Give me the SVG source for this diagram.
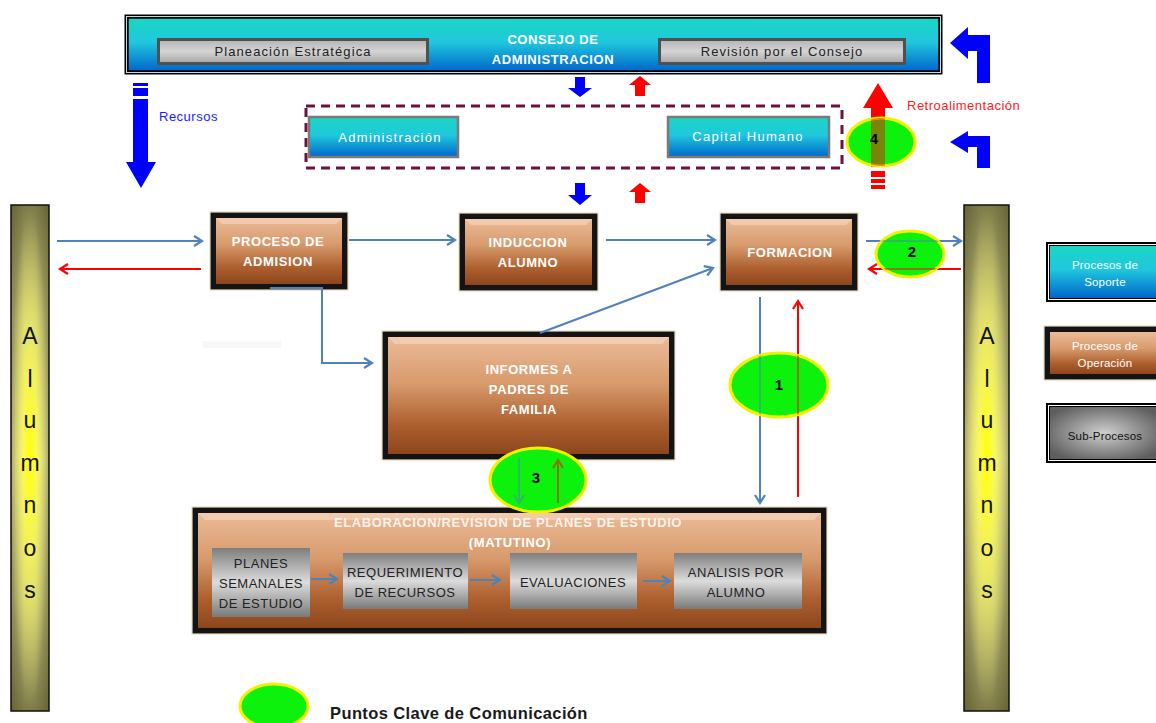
<svg xmlns="http://www.w3.org/2000/svg" width="1156" height="723" viewBox="0 0 1156 723">
  <style>
    .bold { font-family: "Liberation Sans", Arial, sans-serif; font-weight: bold; fill: #ffffff; font-size: 13px; text-anchor: middle; letter-spacing: 0.6px; }
    .soft { font-family: "Liberation Sans", Arial, sans-serif; fill: #ffffff; font-size: 13px; text-anchor: middle; letter-spacing: 1.3px; }
    .dark { font-family: "Liberation Sans", Arial, sans-serif; fill: #222222; font-size: 13px; text-anchor: middle; letter-spacing: 0.5px; }
    .btn { letter-spacing: 1.1px; }
    .legend { font-family: "Liberation Sans", Arial, sans-serif; fill: #ffffff; font-size: 11.5px; text-anchor: middle; letter-spacing: 0.2px; }
    .legend-dark { fill: #111111; }
    .bar { font-family: "Liberation Sans", Arial, sans-serif; fill: #111111; font-size: 23px; text-anchor: middle; }
    .num { font-family: "Liberation Sans", Arial, sans-serif; font-weight: bold; fill: #000000; font-size: 15px; text-anchor: middle; }
    .frame { fill: #141414; stroke: #e8dcc0; stroke-width: 1.2; }
    .brown { fill: url(#gBrown); }
    .cyanbtn { fill: url(#gCyan); stroke: #7a7a7a; stroke-width: 2.5; }
    .graybtn { fill: url(#gGrayBtn); stroke: #505050; stroke-width: 3; }
    .sub { fill: url(#gSub); }
    .key { fill: #0df20d; stroke: #f2f200; stroke-width: 3; }
    .blue { fill: none; stroke: #4f81bd; stroke-width: 2; }
    .red { fill: none; stroke: #ff0000; stroke-width: 2; }
    .fatblue { fill: #0000ff; }
    .fatred { fill: #ff0000; }
    .note { font-family: "Liberation Sans", Arial, sans-serif; font-size: 13px; letter-spacing: 0.5px; }
  </style>
  <defs>
    <linearGradient id="gCyan" x1="0" y1="0" x2="0" y2="1">
      <stop offset="0" stop-color="#1ad6c4"/>
      <stop offset="0.45" stop-color="#20c8dc"/>
      <stop offset="1" stop-color="#0066cc"/>
    </linearGradient>
    <linearGradient id="gBrown" x1="0" y1="0" x2="0" y2="1">
      <stop offset="0" stop-color="#ecbb98"/>
      <stop offset="0.4" stop-color="#d79a6c"/>
      <stop offset="0.75" stop-color="#ad5f2e"/>
      <stop offset="1" stop-color="#8c461c"/>
    </linearGradient>
    <linearGradient id="gGrayBtn" x1="0" y1="0" x2="0" y2="1">
      <stop offset="0" stop-color="#b4b4b4"/>
      <stop offset="0.5" stop-color="#d4d4d4"/>
      <stop offset="1" stop-color="#a4a4a4"/>
    </linearGradient>
    <linearGradient id="gSub" x1="0" y1="0" x2="0" y2="1">
      <stop offset="0" stop-color="#7e7e7e"/>
      <stop offset="0.5" stop-color="#dcdcdc"/>
      <stop offset="1" stop-color="#7a7a7a"/>
    </linearGradient>
    <radialGradient id="gSubLegend" cx="0.5" cy="0.5" r="0.6">
      <stop offset="0" stop-color="#cfcfcf"/>
      <stop offset="1" stop-color="#5e5e5e"/>
    </radialGradient>
    <linearGradient id="gBarV" x1="0" y1="0" x2="0" y2="1">
      <stop offset="0" stop-color="#7c7a48"/>
      <stop offset="0.22" stop-color="#c6c27c"/>
      <stop offset="0.5" stop-color="#f4f0a0"/>
      <stop offset="0.78" stop-color="#c6c27c"/>
      <stop offset="1" stop-color="#7c7a48"/>
    </linearGradient>
    <linearGradient id="gBarH" x1="0" y1="0" x2="1" y2="0">
      <stop offset="0" stop-color="#4a4820" stop-opacity="0.45"/>
      <stop offset="0.35" stop-color="#4a4820" stop-opacity="0"/>
      <stop offset="0.65" stop-color="#4a4820" stop-opacity="0"/>
      <stop offset="1" stop-color="#4a4820" stop-opacity="0.45"/>
    </linearGradient>
    <radialGradient id="gBarGlow" cx="0.5" cy="0.5" r="0.5">
      <stop offset="0" stop-color="#ffff00" stop-opacity="1"/>
      <stop offset="0.35" stop-color="#ffff40" stop-opacity="0.7"/>
      <stop offset="1" stop-color="#ffff80" stop-opacity="0"/>
    </radialGradient>
    <marker id="aBlue" markerUnits="userSpaceOnUse" markerWidth="14" markerHeight="14" refX="10" refY="6" orient="auto">
      <path d="M2,1 L10,6 L2,11" fill="none" stroke="#4f81bd" stroke-width="2.2"/>
    </marker>
    <marker id="aRed" markerUnits="userSpaceOnUse" markerWidth="14" markerHeight="14" refX="10" refY="6" orient="auto">
      <path d="M2,1 L10,6 L2,11" fill="none" stroke="#ff0000" stroke-width="2.2"/>
    </marker>
    <clipPath id="cK1"><ellipse cx="779" cy="385" rx="49" ry="32"/></clipPath>
    <clipPath id="cK2"><ellipse cx="910" cy="254" rx="34" ry="23"/></clipPath>
    <clipPath id="cK4"><ellipse cx="881" cy="142" rx="34" ry="24"/></clipPath>
  </defs>

  <rect width="1156" height="723" fill="#ffffff"/>

  <!-- Board of directors banner -->
  <g id="consejo">
    <rect x="124.5" y="14.5" width="818" height="60" fill="#000000"/>
    <rect x="126.5" y="16.5" width="814" height="56" fill="none" stroke="#c8d8e0" stroke-width="1"/>
    <rect x="128" y="18" width="811" height="53" fill="url(#gCyan)" stroke="#000" stroke-width="1.5"/>
    <text class="bold" x="553" y="44">CONSEJO DE</text>
    <text class="bold" x="553" y="64">ADMINISTRACION</text>
  </g>
  <g id="planeacion">
    <rect class="graybtn" x="158.5" y="39.5" width="269" height="24"/>
    <text class="dark btn" x="293" y="56">Planeación Estratégica</text>
  </g>
  <g id="revision">
    <rect class="graybtn" x="659.5" y="39.5" width="245" height="24"/>
    <text class="dark btn" x="782" y="56">Revisión por el Consejo</text>
  </g>

  <!-- Support processes -->
  <g id="soporte-grupo">
    <rect x="306" y="106" width="536" height="62" fill="none" stroke="#6e1040" stroke-width="3" stroke-dasharray="9 6"/>
  </g>
  <g id="administracion">
    <rect class="cyanbtn" x="309" y="117" width="149" height="40"/>
    <text class="soft" x="390" y="142">Administración</text>
  </g>
  <g id="capital-humano">
    <rect class="cyanbtn" x="668" y="117" width="161" height="40"/>
    <text class="soft" x="748" y="141">Capital Humano</text>
  </g>

  <!-- Student bars -->
  <g id="alumnos-izq">
    <rect x="11" y="205" width="38" height="506" fill="url(#gBarV)"/>
    <rect x="11" y="205" width="38" height="506" fill="url(#gBarH)"/>
    <rect x="11" y="205" width="38" height="506" fill="url(#gBarGlow)"/>
    <rect x="11" y="205" width="38" height="506" fill="none" stroke="#111" stroke-width="1.5"/>
    <text class="bar" x="30" y="344">A</text>
    <text class="bar" x="30" y="387">l</text>
    <text class="bar" x="30" y="428">u</text>
    <text class="bar" x="30" y="471">m</text>
    <text class="bar" x="30" y="513">n</text>
    <text class="bar" x="30" y="556">o</text>
    <text class="bar" x="30" y="598">s</text>
  </g>
  <g id="alumnos-der">
    <rect x="964" y="205" width="45" height="506" fill="url(#gBarV)"/>
    <rect x="964" y="205" width="45" height="506" fill="url(#gBarH)"/>
    <rect x="964" y="205" width="45" height="506" fill="url(#gBarGlow)"/>
    <rect x="964" y="205" width="45" height="506" fill="none" stroke="#111" stroke-width="1.5"/>
    <text class="bar" x="987" y="344">A</text>
    <text class="bar" x="987" y="387">l</text>
    <text class="bar" x="987" y="428">u</text>
    <text class="bar" x="987" y="471">m</text>
    <text class="bar" x="987" y="513">n</text>
    <text class="bar" x="987" y="556">o</text>
    <text class="bar" x="987" y="598">s</text>
  </g>

  <!-- Operation processes -->
  <g id="admision">
    <rect class="frame" x="210" y="212" width="138" height="78"/>
    <rect class="brown" x="216" y="218" width="126" height="66"/>
    <path d="M216,218 H342 L336,224 H222 Z" fill="#f6d2b6" opacity="0.7"/>
    <text class="bold" x="278" y="246">PROCESO DE</text>
    <text class="bold" x="278" y="266">ADMISION</text>
  </g>
  <g id="induccion">
    <rect class="frame" x="459" y="213" width="139" height="78"/>
    <rect class="brown" x="465" y="219" width="127" height="66"/>
    <path d="M465,219 H592 L586,225 H471 Z" fill="#f6d2b6" opacity="0.7"/>
    <text class="bold" x="528" y="247">INDUCCION</text>
    <text class="bold" x="528" y="267">ALUMNO</text>
  </g>
  <g id="formacion">
    <rect class="frame" x="720" y="213" width="138" height="78"/>
    <rect class="brown" x="726" y="219" width="126" height="66"/>
    <path d="M726,219 H852 L846,225 H732 Z" fill="#f6d2b6" opacity="0.7"/>
    <text class="bold" x="790" y="257">FORMACION</text>
  </g>
  <g id="informes">
    <rect class="frame" x="382" y="331" width="293" height="129"/>
    <rect class="brown" x="388" y="337" width="281" height="117"/>
    <path d="M388,337 H669 L662,344 H395 Z" fill="#f6d2b6" opacity="0.7"/>
    <text class="bold" x="529" y="374">INFORMES A</text>
    <text class="bold" x="529" y="394">PADRES DE</text>
    <text class="bold" x="529" y="414">FAMILIA</text>
  </g>
  <rect x="203" y="341" width="78" height="7" fill="#f7f7f7"/>

  <g id="elaboracion">
    <rect class="frame" x="192" y="507" width="635" height="127"/>
    <rect class="brown" x="198" y="513" width="623" height="115"/>
    <path d="M198,513 H821 L814,520 H205 Z" fill="#f6d2b6" opacity="0.7"/>
    <text class="bold" x="508" y="527" fill-opacity="0.85">ELABORACION/REVISION DE PLANES DE ESTUDIO</text>
    <text class="bold" x="510" y="547">(MATUTINO)</text>
  </g>
  <g id="planes">
    <rect class="sub" x="212" y="548" width="98" height="69"/>
    <text class="dark" x="261" y="568">PLANES</text>
    <text class="dark" x="261" y="588">SEMANALES</text>
    <text class="dark" x="261" y="608">DE ESTUDIO</text>
  </g>
  <g id="requerimiento">
    <rect class="sub" x="343" y="553" width="125" height="56"/>
    <text class="dark" x="405" y="577">REQUERIMIENTO</text>
    <text class="dark" x="405" y="597">DE RECURSOS</text>
  </g>
  <g id="evaluaciones">
    <rect class="sub" x="510" y="553" width="127" height="56"/>
    <text class="dark" x="573" y="587">EVALUACIONES</text>
  </g>
  <g id="analisis">
    <rect class="sub" x="674" y="553" width="128" height="56"/>
    <text class="dark" x="736" y="577">ANALISIS POR</text>
    <text class="dark" x="736" y="597">ALUMNO</text>
  </g>

  <!-- Legend -->
  <g id="leyenda-soporte">
    <rect x="1046" y="242" width="116" height="60" fill="#000"/>
    <rect x="1048.5" y="244.5" width="111" height="55" fill="none" stroke="#ffffff" stroke-width="1"/>
    <rect x="1050" y="246" width="108" height="52" fill="url(#gCyan)"/>
    <text class="legend" x="1105" y="269">Procesos de</text>
    <text class="legend" x="1105" y="286">Soporte</text>
  </g>
  <g id="leyenda-operacion">
    <rect class="frame" x="1044" y="326" width="116" height="54"/>
    <rect class="brown" x="1050" y="332" width="110" height="42"/>
    <text class="legend" x="1105" y="350">Procesos de</text>
    <text class="legend" x="1105" y="367">Operación</text>
  </g>
  <g id="leyenda-sub">
    <rect x="1046" y="403" width="116" height="60" fill="#000"/>
    <rect x="1048.5" y="405.5" width="111" height="55" fill="none" stroke="#ffffff" stroke-width="1"/>
    <rect x="1050" y="407" width="108" height="52" fill="url(#gSubLegend)"/>
    <text class="legend legend-dark" x="1105" y="440">Sub-Procesos</text>
  </g>

  <!-- Connectors -->
  <g id="connectors">
    <path class="blue" d="M57,241 H202" marker-end="url(#aBlue)"/>
    <path class="red" d="M201,269 H60" marker-end="url(#aRed)"/>
    <path class="blue" d="M349,240 H455" marker-end="url(#aBlue)"/>
    <path class="blue" d="M606,240 H715" marker-end="url(#aBlue)"/>
    <path class="blue" d="M270,288 H322 V363 H372" marker-end="url(#aBlue)"/>
    <path class="blue" d="M540,333 L713,268" marker-end="url(#aBlue)"/>
    <path class="blue" d="M866,241 H961" marker-end="url(#aBlue)"/>
    <path class="red" d="M961,269 H869" marker-end="url(#aRed)"/>
    <path class="blue" d="M760,297 V503" marker-end="url(#aBlue)"/>
    <path class="red" d="M798,497 V301" marker-end="url(#aRed)"/>
    <path class="blue" d="M311,579 H337" marker-end="url(#aBlue)"/>
    <path class="blue" d="M470,580 H500" marker-end="url(#aBlue)"/>
    <path class="blue" d="M643,581 H670" marker-end="url(#aBlue)"/>

    <!-- resources flowing down -->
    <rect class="fatblue" x="133" y="83" width="15" height="3"/>
    <rect class="fatblue" x="133" y="88" width="15" height="8"/>
    <polygon class="fatblue" points="133,99 148,99 148,162 156,162 141,188 126,162 133,162"/>
    <text class="note" x="159" y="121" fill="#1a1aff">Recursos</text>

    <polygon class="fatblue" points="575,77 585,77 585,88 592,88 580,97 568,88 575,88"/>
    <polygon class="fatred" points="640,76 651,85 645,85 645,96 635,96 635,85 629,85"/>
    <polygon class="fatblue" points="575,183 585,183 585,195 592,195 580,205 568,195 575,195"/>
    <polygon class="fatred" points="640,183 651,192 645,192 645,203 635,203 635,192 629,192"/>

    <!-- feedback flowing up -->
    <polygon class="fatred" points="878,83 893,108 885,108 885,167 871,167 871,108 863,108"/>
    <rect class="fatred" x="871" y="171" width="14" height="6"/>
    <rect class="fatred" x="871" y="179" width="14" height="4"/>
    <rect class="fatred" x="871" y="185" width="14" height="4"/>
    <text class="note" x="907" y="110" fill="#ff2020">Retroalimentación</text>

    <polygon class="fatblue" points="950,43 968,27 968,35 990,35 990,83 977,83 977,51 968,51 968,59"/>
    <polygon class="fatblue" points="950,142 968,131 968,136 990,136 990,168 977,168 977,147 968,147 968,153"/>
  </g>

  <!-- Key communication points -->
  <g id="punto-1">
    <ellipse class="key" cx="779" cy="385" rx="49" ry="32"/>
    <g clip-path="url(#cK1)" opacity="0.5">
      <path class="blue" d="M760,297 V503"/>
      <path class="red" d="M798,497 V301"/>
    </g>
    <text class="num" x="779" y="390">1</text>
  </g>
  <g id="punto-2">
    <ellipse class="key" cx="910" cy="254" rx="34" ry="23"/>
    <g clip-path="url(#cK2)" opacity="0.5">
      <path class="blue" d="M866,241 H961" stroke-width="3"/>
      <path class="red" d="M961,269 H869" stroke-width="3"/>
    </g>
    <text class="num" x="912" y="257">2</text>
  </g>
  <g id="punto-3">
    <ellipse class="key" cx="538" cy="480" rx="48" ry="32"/>
    <g opacity="0.5">
      <path class="blue" d="M519,458 V503" marker-end="url(#aBlue)"/>
      <path class="red" d="M558,503 V460" marker-end="url(#aRed)"/>
    </g>
    <text class="num" x="536" y="483">3</text>
  </g>
  <g id="punto-4">
    <ellipse class="key" cx="881" cy="142" rx="34" ry="24"/>
    <g clip-path="url(#cK4)" opacity="0.45">
      <rect class="fatred" x="871" y="108" width="14" height="59"/>
    </g>
    <text class="num" x="874" y="144">4</text>
  </g>
  <g id="leyenda-puntos">
    <ellipse class="key" cx="274" cy="706" rx="34" ry="22"/>
    <text x="330" y="719" font-family="Liberation Sans, Arial, sans-serif" font-weight="bold" font-size="16.5" letter-spacing="0.4" fill="#1a1a1a">Puntos Clave de Comunicación</text>
  </g>
</svg>
